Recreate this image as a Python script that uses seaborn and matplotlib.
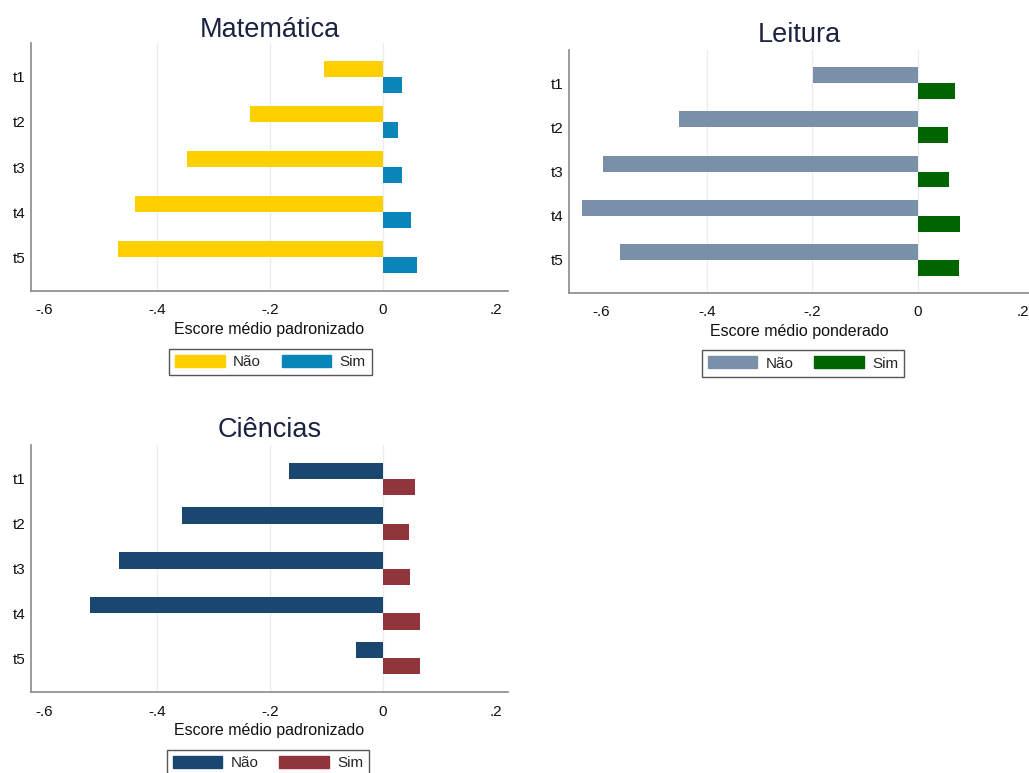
import matplotlib
matplotlib.use("Agg")
import matplotlib.pyplot as plt
from matplotlib.patches import Patch
import pandas as pd
import seaborn as sns

# ---- data -------------------------------------------------------------
tempos = ["t1", "t2", "t3", "t4", "t5"]
grupos = ["Não", "Sim"]

mat_nao = [-0.104, -0.236, -0.347, -0.439, -0.470]
mat_sim = [0.035, 0.028, 0.035, 0.051, 0.061]

lei_nao = [-0.199, -0.454, -0.597, -0.637, -0.566]
lei_sim = [0.071, 0.057, 0.060, 0.081, 0.079]

cie_nao = [-0.166, -0.355, -0.468, -0.519, -0.047]
cie_sim = [0.058, 0.046, 0.048, 0.067, 0.066]

xticks = [-0.6, -0.4, -0.2, 0.0, 0.2]
xtick_labels = ["-.6", "-.4", "-.2", "0", ".2"]


def long_form(nao, sim):
    return pd.DataFrame({
        "tempo": tempos * 2,
        "escore": list(nao) + list(sim),
        "grupo": [grupos[0]] * len(nao) + [grupos[1]] * len(sim),
    })


# ---- style ------------------------------------------------------------
sns.set_style("white")
plt.rcParams["font.family"] = ["Liberation Sans", "DejaVu Sans"]

W, H = 1029, 773
fig = plt.figure(figsize=(W / 100, H / 100), dpi=100)
fig.patch.set_facecolor("white")

AXIS_GRAY = "#8a8a8a"
TITLE_COLOR = "#1c2340"


def px_axes(left, top, right, bottom):
    return fig.add_axes([left / W, 1 - bottom / H, (right - left) / W, (bottom - top) / H])


def panel(ax, nao, sim, colors, title, xlabel, xlim, title_pad, legend_center):
    df = long_form(nao, sim)
    sns.barplot(data=df, x="escore", y="tempo", hue="grupo", hue_order=grupos,
                order=tempos, orient="h", palette=colors, width=0.72,
                saturation=1, errorbar=None, linewidth=0, legend=False, ax=ax)
    ax.set_xlim(*xlim)
    ax.set_ylim(4.75, -0.75)
    ax.set_xticks(xticks)
    ax.set_xticklabels(xtick_labels)
    ax.set_ylabel("")
    ax.set_xlabel(xlabel, fontsize=11.5, color="#111111", labelpad=3)
    ax.set_title(title, fontsize=19.5, color=TITLE_COLOR, pad=title_pad)

    for side in ("top", "right"):
        ax.spines[side].set_visible(False)
    for side in ("left", "bottom"):
        ax.spines[side].set_color(AXIS_GRAY)
        ax.spines[side].set_linewidth(1.2)

    ax.tick_params(axis="x", length=3, width=1, color=AXIS_GRAY, pad=6,
                   labelsize=11, labelcolor="#111111")
    ax.tick_params(axis="y", length=0, pad=4, labelsize=11, labelcolor="#111111")

    ax.xaxis.grid(True, color="#ececec", linewidth=0.9)
    ax.set_axisbelow(True)
    grid = ax.get_xgridlines()
    grid[0].set_visible(False)
    grid[-1].set_visible(False)

    handles = [Patch(facecolor=c, edgecolor=c, label=g) for c, g in zip(colors, grupos)]
    fig.legend(handles=handles, loc="center",
               bbox_to_anchor=(legend_center[0] / W, 1 - legend_center[1] / H),
               ncol=2, frameon=True, fancybox=False, fontsize=11,
               handlelength=3.25, handleheight=0.85, handletextpad=0.55,
               columnspacing=1.35, borderpad=0.4, edgecolor="#555555",
               framealpha=1)


ax1 = px_axes(31, 43, 508, 291)
panel(ax1, mat_nao, mat_sim, ["#FFD000", "#0A85BA"], "Matemática",
      "Escore médio padronizado", (-0.6236, 0.2222), 4.5, (270.5, 362))

ax2 = px_axes(569, 50, 1029, 293)
panel(ax2, lei_nao, lei_sim, ["#7A8FA8", "#006400"], "Leitura",
      "Escore médio ponderado", (-0.662, 0.2113), 6, (803, 363.5))

ax3 = px_axes(31, 445, 508, 692)
panel(ax3, cie_nao, cie_sim, ["#1A476F", "#90353B"], "Ciências",
      "Escore médio padronizado", (-0.6236, 0.2222), 6, (268, 763))

fig.savefig("out.png", dpi=100, facecolor="white")
